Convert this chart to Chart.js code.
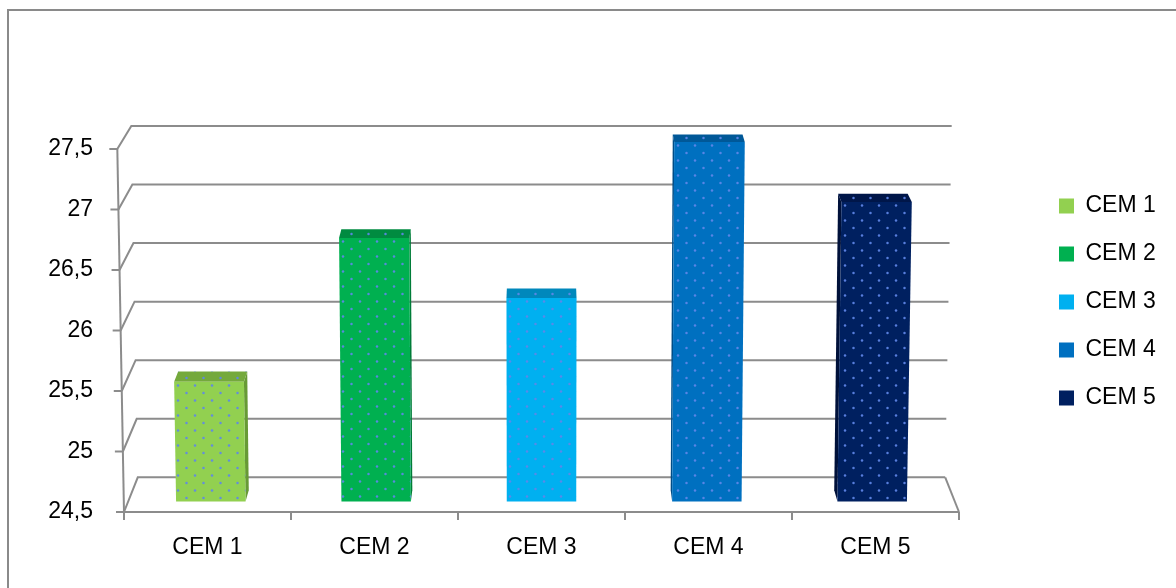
<!DOCTYPE html>
<html>
<head>
<meta charset="utf-8">
<script src="https://cdn.jsdelivr.net/npm/chart.js@4.4.1/dist/chart.umd.min.js"></script>
<style>
  html, body { margin: 0; padding: 0; background: #fff; }
  #wrap { width: 1176px; height: 588px; position: relative; }
</style>
</head>
<body>
<div id="wrap"><canvas id="c" width="1176" height="588"></canvas></div>
<script>
// Series data
const categories = ['CEM 1', 'CEM 2', 'CEM 3', 'CEM 4', 'CEM 5'];
const values = [25.5, 26.7, 26.2, 27.5, 27.0];

// Value axis
const yMin = 24.5;
const yMax = 27.5;
const yStep = 0.5;

// Column colours: front face, top face, side face
const frontColors = ['#92D050', '#00B050', '#00B0F0', '#0070C0', '#002060'];
const topColors   = ['#74A93C', '#008B40', '#0088BC', '#005898', '#001649'];
const sideColors  = ['#679A35', '#007C38', '#0078A8', '#004C86', '#00113A'];

// Plot (front plane) target box in canvas pixels
const AREA = { left: 124, top: 149, right: 959, bottom: 512 };

// 3D box geometry
const RISE_BOTTOM = 34.7;   // how far the back wall rises at the floor
const RISE_TOP = 23;        // ... and at the top gridline
const BACK_SHRINK = 0.033;  // horizontal shrink of the back plane
const TOP_SPREAD = 0.016;   // slight widening towards the top
const BAR_D1 = 0.30;        // column front depth
const BAR_D2 = 0.63;        // column back depth
const GRID_COLOR = '#8c8c8c';
const FONT_SIZE = 23;

Chart.defaults.font.family = "'Liberation Sans', Arial, sans-serif";
Chart.defaults.color = '#000';

function project(chart, xf, v, d) {
  const ys = chart.scales.y;
  const a = chart.chartArea;
  const t = (v - ys.min) / (ys.max - ys.min);
  const yF = ys.getPixelForValue(v);
  const rise = RISE_BOTTOM + (RISE_TOP - RISE_BOTTOM) * t;
  const y = yF - rise * d;
  const cx = (a.left + a.right) / 2;
  const sx = (1 - BACK_SHRINK * d) * (1 + TOP_SPREAD * t);
  return { x: cx + (xf - cx) * sx, y: y };
}

function makeDotTile() {
  const c = document.createElement('canvas');
  c.width = 17; c.height = 15;
  const g = c.getContext('2d');
  g.fillStyle = 'rgba(95,135,232,0.92)';
  [[4, 3.5], [12.5, 11]].forEach(([x, y]) => {
    g.beginPath(); g.arc(x, y, 1.25, 0, Math.PI * 2); g.fill();
  });
  return c;
}
const dotTile = makeDotTile();

function poly(ctx, pts, fill) {
  ctx.beginPath();
  ctx.moveTo(pts[0].x, pts[0].y);
  for (let i = 1; i < pts.length; i++) ctx.lineTo(pts[i].x, pts[i].y);
  ctx.closePath();
  ctx.fillStyle = fill;
  ctx.fill();
}

const frame3d = {
  id: 'frame3d',
  afterLayout(chart) {
    const lg = chart.legend;
    if (!lg) return;
    const pad = lg.options.labels.padding;
    const w = lg.width, h = lg.height;
    lg.left = 1059 - pad; lg.right = lg.left + w;
    lg.top = 206 - pad - FONT_SIZE / 2; lg.bottom = lg.top + h;
  },
  beforeDraw(chart) {
    const ctx = chart.ctx;
    ctx.save();
    ctx.fillStyle = '#fff';
    ctx.fillRect(0, 0, chart.width, chart.height);
    ctx.strokeStyle = '#8a8a8a';
    ctx.lineWidth = 2;
    ctx.strokeRect(8, 10, 1200, 620);
    ctx.restore();
  },
  beforeDatasetsDraw(chart) {
    const ctx = chart.ctx;
    const a = chart.chartArea;
    const ys = chart.scales.y;
    ctx.save();
    ctx.strokeStyle = GRID_COLOR;
    ctx.lineWidth = 2;
    ctx.lineCap = 'butt';
    // back wall gridlines with their side diagonals
    ys.ticks.forEach(tk => {
      const v = tk.value;
      const f = project(chart, a.left, v, 0);
      const bl = project(chart, a.left, v, 1);
      const br = project(chart, a.right, v, 1);
      ctx.beginPath();
      ctx.moveTo(f.x, f.y);
      ctx.lineTo(bl.x, bl.y);
      ctx.lineTo(br.x, br.y);
      ctx.stroke();
      // tick mark on the front axis
      ctx.beginPath();
      ctx.moveTo(f.x - 8, f.y);
      ctx.lineTo(f.x, f.y);
      ctx.stroke();
    });
    // floor right edge
    const fr = project(chart, a.right, ys.min, 0);
    const brf = project(chart, a.right, ys.min, 1);
    ctx.beginPath();
    ctx.moveTo(brf.x, brf.y);
    ctx.lineTo(fr.x, fr.y);
    ctx.stroke();
    // front value axis (slanted)
    const ft = project(chart, a.left, ys.max, 0);
    const fb = project(chart, a.left, ys.min, 0);
    ctx.beginPath();
    ctx.moveTo(ft.x, ft.y);
    ctx.lineTo(fb.x, fb.y);
    ctx.stroke();
    // front category axis with tick marks between categories
    ctx.beginPath();
    ctx.moveTo(fb.x, fb.y);
    ctx.lineTo(fr.x, fr.y);
    ctx.stroke();
    const n = categories.length;
    for (let i = 0; i <= n; i++) {
      const x = fb.x + (fr.x - fb.x) * i / n;
      ctx.beginPath();
      ctx.moveTo(x, fb.y);
      ctx.lineTo(x, fb.y + 8);
      ctx.stroke();
    }
    ctx.restore();
  },
  afterDatasetsDraw(chart) {
    const ctx = chart.ctx;
    const a = chart.chartArea;
    const ys = chart.scales.y;
    const meta = chart.getDatasetMeta(0);
    const data = chart.data.datasets[0].data;
    const cx = (a.left + a.right) / 2;
    ctx.save();
    meta.data.forEach((el, i) => {
      const { x, width } = el.getProps(['x', 'width'], true);
      const v = data[i];
      const xl = x - width / 2, xr = x + width / 2;
      const FTL = project(chart, xl, v, BAR_D1), FTR = project(chart, xr, v, BAR_D1);
      const FBL = project(chart, xl, ys.min, BAR_D1), FBR = project(chart, xr, ys.min, BAR_D1);
      const BTL = project(chart, xl, v, BAR_D2), BTR = project(chart, xr, v, BAR_D2);
      const BBL = project(chart, xl, ys.min, BAR_D2), BBR = project(chart, xr, ys.min, BAR_D2);
      const pat = ctx.createPattern(dotTile, 'repeat');
      pat.setTransform(new DOMMatrix([1, 0, 0, 1, Math.round(FTL.x), Math.round(FTL.y)]));
      // side face
      if (x < cx - 2) poly(ctx, [FTR, BTR, BBR, FBR], sideColors[i]);
      else if (x > cx + 2) poly(ctx, [FTL, BTL, BBL, FBL], sideColors[i]);
      // top face
      poly(ctx, [FTL, FTR, BTR, BTL], topColors[i]);
      poly(ctx, [FTL, FTR, BTR, BTL], pat);
      // front face
      poly(ctx, [FTL, FTR, FBR, FBL], frontColors[i]);
      poly(ctx, [FTL, FTR, FBR, FBL], pat);
    });
    ctx.restore();
  }
};

const config = {
  type: 'bar',
  data: {
    labels: categories,
    datasets: [{
      label: 'CEM',
      data: values,
      backgroundColor: 'rgba(0,0,0,0)',
      borderWidth: 0,
      barPercentage: 0.42,
      categoryPercentage: 1
    }]
  },
  options: {
    responsive: false,
    animation: false,
    devicePixelRatio: 1,
    layout: { padding: { left: 10, top: 149, right: 10, bottom: 10 } },
    plugins: {
      tooltip: { enabled: false },
      title: { display: false },
      legend: {
        position: 'right',
        align: 'start',
        onClick: null,
        labels: {
          boxWidth: 15,
          boxHeight: 15,
          padding: 25,
          font: { size: FONT_SIZE },
          color: '#000',
          generateLabels: () => categories.map((c, i) => ({
            text: c,
            fillStyle: frontColors[i],
            strokeStyle: frontColors[i],
            lineWidth: 0,
            hidden: false,
            index: i,
            datasetIndex: 0
          }))
        }
      }
    },
    scales: {
      x: {
        type: 'category',
        offset: true,
        grid: { display: false },
        border: { display: false },
        ticks: { font: { size: FONT_SIZE }, color: '#000', padding: 14, maxRotation: 0 }
      },
      y: {
        min: yMin,
        max: yMax,
        grid: { display: false },
        border: { display: false },
        ticks: {
          stepSize: yStep,
          font: { size: FONT_SIZE },
          color: '#000',
          padding: 23,
          callback: (v) => String(v).replace('.', ',')
        }
      }
    }
  },
  plugins: [frame3d]
};

const chart = new Chart(document.getElementById('c'), config);

// settle the plot box on its intended position
for (let k = 0; k < 2; k++) {
  const a = chart.chartArea;
  const p = chart.config.options.layout.padding;
  chart.config.options.layout.padding = {
    left: p.left + (AREA.left - a.left),
    top: p.top + (AREA.top - a.top),
    right: p.right + (a.right - AREA.right),
    bottom: p.bottom + (a.bottom - AREA.bottom)
  };
  chart.update();
}
</script>
</body>
</html>
